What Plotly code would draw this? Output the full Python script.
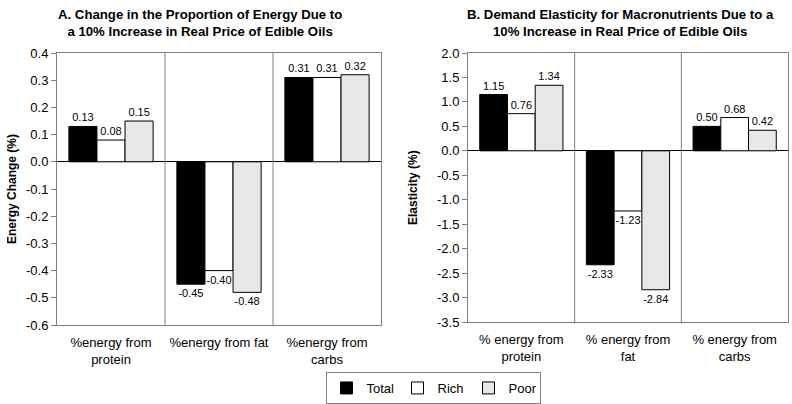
import plotly.graph_objects as go

cats_a = ["%energy from<br>protein", "%energy from fat", "%energy from<br>carbs"]
cats_b = ["% energy from<br>protein", "% energy from<br>fat", "% energy from<br>carbs"]
series = ["Total", "Rich", "Poor"]

a_total = [0.13, -0.45, 0.31]
a_rich = [0.08, -0.40, 0.31]
a_poor = [0.15, -0.48, 0.32]

b_total = [1.15, -2.33, 0.50]
b_rich = [0.76, -1.23, 0.68]
b_poor = [1.34, -2.84, 0.42]

ticks_a = [0.4, 0.3, 0.2, 0.1, 0.0, -0.1, -0.2, -0.3, -0.4, -0.5, -0.6]
ticks_b = [2.0, 1.5, 1.0, 0.5, 0.0, -0.5, -1.0, -1.5, -2.0, -2.5, -3.0, -3.5]

title_a = "A. Change in the Proportion of Energy Due to<br>a 10% Increase in Real Price of Edible Oils"
title_b = "B. Demand Elasticity for Macronutrients Due to a<br>10% Increase in Real Price of Edible Oils"
ytitle_a = "Energy Change (%)"
ytitle_b = "Elasticity (%)"

FONT = "Liberation Sans, Arial, sans-serif"
GRAY = "#808080"
W, H = 792, 404

styles = {
    "Total": dict(color="black", line=dict(color="black", width=1)),
    "Rich": dict(color="white", line=dict(color="black", width=1)),
    "Poor": dict(color="white", line=dict(color="black", width=1),
                 pattern=dict(shape=".", fgcolor="#707070", bgcolor="white", size=2, solidity=0.32)),
}

fig = go.Figure()
for name, ya, yb in zip(series, [a_total, a_rich, a_poor], [b_total, b_rich, b_poor]):
    for cats, vals, xa, ya_ax, show in [(cats_a, ya, "x", "y", True), (cats_b, yb, "x2", "y2", False)]:
        fig.add_trace(go.Bar(
            x=cats, y=vals, name=name, legendgroup=name, showlegend=show,
            xaxis=xa, yaxis=ya_ax, marker=styles[name],
            text=[f"{v:.2f}" for v in vals], textposition="outside",
            textfont=dict(size=11, color="black", family=FONT),
            cliponaxis=False, hoverinfo="skip",
        ))

axis_common = dict(showline=True, linecolor=GRAY, linewidth=1, mirror=True, showgrid=False, automargin=False)
yaxis_common = dict(ticks="outside", ticklen=5, tickcolor=GRAY, tickfont=dict(size=13),
                    zeroline=True, zerolinecolor="black", zerolinewidth=1)
fig.update_layout(
    width=W, height=H,
    margin=dict(l=0, r=0, t=0, b=0, autoexpand=False),
    paper_bgcolor="white", plot_bgcolor="white",
    font=dict(family=FONT, size=12, color="black"),
    barmode="group", bargap=0.22, bargroupgap=0,
    xaxis=dict(domain=[57/W, 381/W], anchor="y", type="category", ticks="",
               tickfont=dict(size=13), ticklabelstandoff=5, **axis_common),
    yaxis=dict(domain=[1-325/H, 1-53/H], anchor="x", range=[-0.6, 0.4],
               tickvals=ticks_a, ticktext=[f"{v:.1f}" for v in ticks_a],
               **yaxis_common, **axis_common),
    xaxis2=dict(domain=[468/W, 788/W], anchor="y2", type="category", ticks="",
                tickfont=dict(size=13), ticklabelstandoff=5, **axis_common),
    yaxis2=dict(domain=[1-322/H, 1-53/H], anchor="x2", range=[-3.5, 2.0],
                tickvals=ticks_b, ticktext=[f"{v:.1f}" for v in ticks_b],
                **yaxis_common, **axis_common),
    legend=dict(orientation="h", xref="paper", yref="paper",
                x=433/W, xanchor="center", y=1-388/H, yanchor="middle",
                bordercolor=GRAY, borderwidth=1, font=dict(size=13),
                entrywidth=26, entrywidthmode="pixels", traceorder="normal"),
    showlegend=True,
)

for xr, yr in [("x", "y domain"), ("x2", "y2 domain")]:
    for xv in [0.5, 1.5]:
        fig.add_shape(type="line", xref=xr, yref=yr, x0=xv, x1=xv, y0=0, y1=1,
                      line=dict(color=GRAY, width=1))

fig.add_annotation(text="<b>" + title_a + "</b>", xref="paper", yref="paper", x=200/W, y=1-23/H,
                   showarrow=False, font=dict(size=13.2), align="center", xanchor="center", yanchor="middle")
fig.add_annotation(text="<b>" + title_b + "</b>", xref="paper", yref="paper", x=620/W, y=1-23/H,
                   showarrow=False, font=dict(size=13.2), align="center", xanchor="center", yanchor="middle")
fig.add_annotation(text="<b>" + ytitle_a + "</b>", xref="paper", yref="paper", x=12/W, y=1-189/H,
                   showarrow=False, font=dict(size=12), textangle=-90, xanchor="center", yanchor="middle")
fig.add_annotation(text="<b>" + ytitle_b + "</b>", xref="paper", yref="paper", x=413/W, y=1-188/H,
                   showarrow=False, font=dict(size=12), textangle=-90, xanchor="center", yanchor="middle")

fig.write_html("out.html", config={"displayModeBar": False},
               post_script="document.body.style.margin='0';document.body.style.overflow='hidden';")
